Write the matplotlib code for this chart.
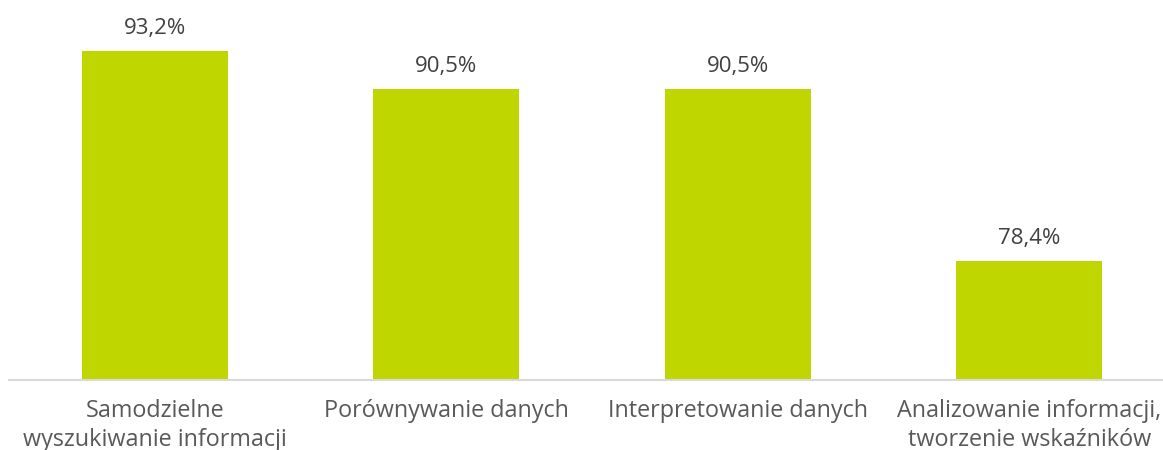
import matplotlib.pyplot as plt

categories = ["Samodzielne\nwyszukiwanie informacji", "Porównywanie danych",
              "Interpretowanie danych", "Analizowanie informacji,\ntworzenie wskaźników"]
values = [93.2, 90.5, 90.5, 78.4]
labels = ["93,2%", "90,5%", "90,5%", "78,4%"]

plt.rcParams['font.family'] = ['Open Sans', 'DejaVu Sans']

W, H = 1163, 450
fig = plt.figure(figsize=(W / 100, H / 100), dpi=100)
# axes placed in pixel terms: spans past right edge like the source
ax = fig.add_axes([9 / W, 1 - 380 / H, 1166 / W, 369 / H])

x = range(len(categories))
bars = ax.bar(x, values, width=0.5, color="#BFD600")
ax.set_ylim(70, 96)
ax.set_xlim(-0.5, len(categories) - 0.5)

for b, lab in zip(bars, labels):
    ax.annotate(lab, (b.get_x() + b.get_width() / 2, b.get_height()),
                xytext=(0, 16), textcoords="offset points",
                ha="center", va="center", fontsize=16, color="#404040")

ax.set_xticks(list(x))
ax.set_xticklabels(categories, fontsize=16.8, color="#595959", linespacing=1.25)
ax.tick_params(axis="x", length=0, pad=14)
ax.set_yticks([])
for s in ["top", "right", "left"]:
    ax.spines[s].set_visible(False)
ax.spines["bottom"].set_color("#D9D9D9")
ax.spines["bottom"].set_linewidth(1.5)

fig.savefig("out.png", dpi=100)
